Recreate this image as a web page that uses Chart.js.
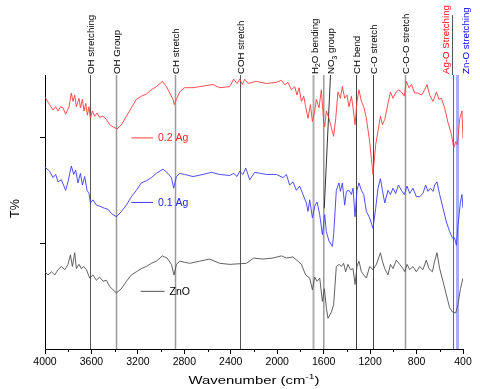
<!DOCTYPE html>
<html>
<head>
<meta charset="utf-8">
<script src="https://cdn.jsdelivr.net/npm/chart.js@4"></script>
<style>
  html, body { margin: 0; padding: 0; background: #fff; }
  canvas { display: block; }
</style>
</head>
<body>
<canvas id="ftir" width="480" height="389"></canvas>
<script>
const FONT = '"Liberation Sans", Arial, sans-serif';

// ---- 0.2 Ag spectrum (wavenumber cm-1 / T%, arbitrary offset units)
const agHighWn = [4000,3960,3931,3908,3888,3867,3845,3822,3793,3773,
  3759,3744,3730,3707,3695,3678,3664,3649,3635,3621,
  3609,3592,3572,3552,3529,3500,3471,3443,3414,3380,
  3342,3299,3256,3213,3170,3127,3084,3041,2989,2954,
  2926,2898,2886,2868,2840,2797,2725,2668,2553,2495,
  2409,2375,2346,2323,2300,2280,2252,2179,2093,2007,
  1964,1936,1907,1878,1849,1830,1812,1792,1772,1755,
  1735,1714,1697,1677,1663,1640,1620,1600,1591,1577,
  1554,1533,1514,1496,1477,1456,1439,1419,1399,1382,
  1361,1347,1330,1313,1296,1275,1255,1232,1204,1175,
  1152,1132,1111,1094,1074,1046,1025,1003,980,956,
  931,905,888,865,844,816,788,758,730,710,
  687,658,629,607,586,558,529,500,480,463,
  448,428,409,400];
const agHighT = [2.38,2.31,2.26,2.29,2.25,2.29,2.28,2.22,2.29,2.42,
  2.34,2.40,2.29,2.37,2.28,2.36,2.25,2.32,2.21,2.29,
  2.18,2.25,2.20,2.23,2.19,2.20,2.17,2.12,2.10,2.08,
  2.12,2.20,2.28,2.36,2.39,2.41,2.45,2.48,2.53,2.48,
  2.42,2.36,2.31,2.36,2.43,2.47,2.47,2.48,2.50,2.47,
  2.48,2.55,2.51,2.55,2.50,2.55,2.51,2.53,2.51,2.52,
  2.54,2.50,2.52,2.45,2.48,2.40,2.47,2.34,2.39,2.29,
  2.18,2.31,2.15,2.25,2.36,2.28,2.45,2.15,2.10,2.25,
  2.18,2.09,2.01,2.18,2.43,2.37,2.48,2.37,2.40,2.29,
  2.39,2.28,2.12,2.34,2.45,2.34,2.29,2.18,1.96,1.65,
  1.93,2.06,2.20,2.12,2.17,2.32,2.43,2.37,2.42,2.45,
  2.43,2.39,2.53,2.47,2.50,2.42,2.42,2.40,2.45,2.50,
  2.40,2.34,2.43,2.36,2.37,2.28,2.14,2.03,1.90,1.96,
  1.93,2.18,2.25,1.99];

// ---- 0.1 Ag spectrum
const agLowWn = [4000,3960,3931,3908,3888,3859,3822,3802,3773,3753,
  3736,3716,3695,3678,3658,3638,3621,3609,3587,3557,
  3529,3486,3457,3428,3385,3342,3299,3256,3213,3170,
  3127,3084,3041,2984,2941,2911,2892,2868,2840,2797,
  2725,2639,2567,2495,2409,2375,2346,2323,2295,2271,
  2237,2194,2093,2007,1950,1921,1893,1864,1835,1807,
  1778,1749,1735,1720,1697,1677,1657,1634,1611,1591,
  1577,1554,1525,1514,1491,1468,1456,1439,1419,1404,
  1382,1361,1347,1330,1313,1296,1275,1255,1232,1204,
  1175,1152,1132,1111,1094,1074,1046,1025,1003,980,
  956,931,905,882,859,831,802,773,745,722,
  702,681,658,644,624,601,572,543,515,491,
  472,457,443,422,409,400];
const agLowT = [1.72,1.68,1.62,1.65,1.58,1.60,1.50,1.58,1.73,1.65,
  1.69,1.57,1.66,1.55,1.63,1.50,1.47,1.38,1.41,1.36,
  1.35,1.33,1.32,1.28,1.25,1.30,1.36,1.44,1.50,1.57,
  1.59,1.62,1.66,1.70,1.66,1.62,1.52,1.63,1.66,1.65,
  1.63,1.65,1.67,1.65,1.64,1.66,1.63,1.68,1.65,1.71,
  1.60,1.67,1.65,1.65,1.62,1.65,1.55,1.58,1.50,1.54,
  1.46,1.38,1.30,1.41,1.24,1.35,1.39,1.27,1.08,1.27,
  1.11,1.02,0.97,1.08,1.50,1.57,1.49,1.57,1.36,1.49,
  1.50,1.46,1.52,1.25,1.50,1.57,1.50,1.46,1.30,1.24,
  1.14,1.33,1.52,1.61,1.50,1.38,1.50,1.46,1.52,1.47,
  1.55,1.50,1.46,1.54,1.47,1.52,1.44,1.44,1.47,1.55,
  1.49,1.52,1.49,1.55,1.58,1.46,1.33,1.20,1.11,1.05,
  1.05,0.98,1.17,1.39,1.46,1.33];

// ---- pure ZnO spectrum
const znoWn = [4000,3974,3945,3916,3888,3859,3830,3802,3781,3764,
  3744,3730,3707,3687,3667,3643,3615,3587,3557,3529,
  3500,3471,3443,3414,3385,3342,3299,3256,3213,3170,
  3127,3084,3041,2989,2949,2911,2889,2868,2840,2797,
  2754,2668,2582,2495,2409,2265,2203,2123,2036,1964,
  1921,1864,1821,1792,1755,1720,1697,1677,1657,1634,
  1611,1594,1577,1563,1533,1514,1491,1468,1447,1428,
  1411,1391,1370,1347,1330,1313,1296,1275,1255,1232,
  1204,1175,1146,1111,1094,1074,1046,1025,1003,974,
  945,917,900,882,859,831,802,773,745,716,
  693,664,644,624,601,572,543,515,491,463,
  443,422,400];
const znoT = [0.73,0.70,0.73,0.70,0.75,0.78,0.75,0.80,0.89,0.78,
  0.91,0.76,0.80,0.76,0.78,0.75,0.67,0.70,0.65,0.68,
  0.64,0.65,0.59,0.56,0.53,0.57,0.64,0.70,0.73,0.76,
  0.78,0.81,0.83,0.88,0.86,0.80,0.70,0.80,0.83,0.82,
  0.81,0.83,0.85,0.81,0.80,0.81,0.86,0.85,0.86,0.88,
  0.86,0.87,0.83,0.80,0.70,0.67,0.56,0.68,0.64,0.67,
  0.45,0.57,0.39,0.29,0.35,0.42,0.78,0.80,0.78,0.81,
  0.73,0.80,0.75,0.76,0.61,0.78,0.83,0.73,0.70,0.67,
  0.78,0.75,0.80,0.91,0.83,0.76,0.70,0.80,0.76,0.84,
  0.80,0.76,0.73,0.80,0.75,0.78,0.73,0.78,0.75,0.84,
  0.76,0.73,0.83,0.91,0.76,0.64,0.51,0.39,0.35,0.34,
  0.42,0.57,0.67];

// band assignments marked with vertical lines
const bandWn = [3610, 3386, 2883, 2318, 1689, 1545, 1324, 1173, 902, 484, 454];
const bandLabels = ['OH stretching', 'OH Group', 'CH stretch', 'COH stretch', 'H_2O bending',
  'NO_3 group', 'CH bend', 'C-O stretch', 'C-O-O stretch', 'Ag-O Stretching', 'Zn-O stretching'];

const seriesNames = ['0.2 Ag', '0.1 Ag', 'ZnO'];
const xTicks = [4000, 3600, 3200, 2800, 2400, 2000, 1600, 1200, 800, 400];

// ---- styling
const seriesColors = ['#ff3b3b', '#3b3bff', '#505050'];
const bandStyle = [
  { color: '#555', width: 1 },
  { color: '#9a9a9a', width: 1.5 },
  { color: '#9a9a9a', width: 1.5 },
  { color: '#555', width: 1 },
  { color: '#b0b0b0', width: 2 },
  { color: '#333', width: 1, slantTo: [1595, 1.33] },
  { color: '#444', width: 1 },
  { color: '#444', width: 1 },
  { color: '#9a9a9a', width: 1.5 },
  { color: '#e83030', width: 1, text: '#ff0000', dx: -6.5, cap: true },
  { color: '#a8adff', width: 3, text: '#0000ff', dx: 9.5 },
];
// where the in-plot series labels sit (data units)
const nameSpots = [
  { from: 3256, to: 3070, y: 2.0, text: '#ff2020' },
  { from: 3256, to: 3070, y: 1.39, text: '#2020ff' },
  { from: 3176, to: 2970, y: 0.55, text: '#000' },
];

const toPoints = (wn, t) => wn.map((w, i) => ({ x: w, y: t[i] }));

function vline(ctx, px, y0, y1, color, width) {
  ctx.beginPath();
  ctx.strokeStyle = color;
  ctx.lineWidth = width;
  ctx.moveTo(px, y0);
  ctx.lineTo(px, y1);
  ctx.stroke();
}

// rotated label reading bottom-to-top, "_" marks a one-character subscript
function upText(ctx, str, px, py, size, color) {
  ctx.save();
  ctx.setTransform(1, 0, 0, 1, 0, 0);
  ctx.translate(px, py);
  ctx.rotate(-Math.PI / 2);
  ctx.fillStyle = color;
  ctx.textBaseline = 'middle';
  ctx.textAlign = 'left';
  let cx = 0;
  const parts = str.split(/_(.)/);
  parts.forEach((p, i) => {
    const sub = i % 2 === 1;
    ctx.font = (sub ? size * 0.7 : size) + 'px ' + FONT;
    ctx.fillText(p, cx, sub ? size * 0.35 : 0);
    cx += ctx.measureText(p).width;
  });
  ctx.restore();
}

const annotate = {
  id: 'annotate',
  beforeDatasetsDraw(chart) {
    const { ctx, chartArea: area, scales: { x, y } } = chart;
    ctx.save();
    vline(ctx, x.getPixelForValue(1599), area.top, area.bottom, '#9a9a9a', 1.5);
    bandWn.forEach((wn, i) => {
      const s = bandStyle[i];
      const px = Math.round(x.getPixelForValue(wn)) + 0.5;
      if (s.slantTo) {
        ctx.beginPath();
        ctx.strokeStyle = s.color;
        ctx.lineWidth = s.width;
        ctx.moveTo(px, area.top);
        ctx.lineTo(x.getPixelForValue(s.slantTo[0]), y.getPixelForValue(s.slantTo[1]));
        ctx.stroke();
      } else {
        vline(ctx, px, area.top, area.bottom, s.color, s.width);
      }
      if (s.cap) vline(ctx, px - 1, 15, area.top, '#555', 1);
    });
    ctx.restore();
  },
  afterDraw(chart) {
    const { ctx, chartArea: area, scales: { x, y } } = chart;
    ctx.save();

    // minor ticks between labelled ones
    for (let v = 600; v < 4000; v += 400) {
      vline(ctx, Math.round(x.getPixelForValue(v)) + 0.5, area.bottom, area.bottom + 3, '#000', 1);
    }

    bandWn.forEach((wn, i) => {
      const s = bandStyle[i];
      const px = x.getPixelForValue(wn) + (s.dx ?? 1.5);
      upText(ctx, bandLabels[i], px, 74, 9.7, s.text || '#000');
    });

    // series names inside the plot
    ctx.font = '10.5px ' + FONT;
    ctx.textBaseline = 'middle';
    ctx.textAlign = 'left';
    nameSpots.forEach((n, i) => {
      const yy = y.getPixelForValue(n.y);
      const x0 = x.getPixelForValue(n.from);
      const x1 = x.getPixelForValue(n.to);
      ctx.beginPath();
      ctx.strokeStyle = seriesColors[i];
      ctx.lineWidth = 1;
      ctx.moveTo(x0, yy + 0.5);
      ctx.lineTo(x1, yy + 0.5);
      ctx.stroke();
      ctx.fillStyle = n.text;
      ctx.fillText(seriesNames[i], x1 + 5, yy + 1);
    });

    // axis titles
    upText(ctx, 'T%', 16, 218, 12.5, '#000');

    const cx = (area.left + area.right) / 2;
    ctx.font = '11.5px ' + FONT;
    const a = 'Wavenumber (cm', b = ')';
    const wa = ctx.measureText(a).width, wb = ctx.measureText(b).width;
    ctx.font = '8px ' + FONT;
    const ws = ctx.measureText('-1').width;
    const total = wa + ws + wb;
    ctx.translate(cx, 384);
    ctx.scale(131 / total, 1);
    ctx.fillStyle = '#000';
    ctx.textBaseline = 'alphabetic';
    ctx.font = '11.5px ' + FONT;
    ctx.fillText(a, -total / 2, 0);
    ctx.font = '8px ' + FONT;
    ctx.fillText('-1', -total / 2 + wa, -5);
    ctx.font = '11.5px ' + FONT;
    ctx.fillText(b, -total / 2 + wa + ws, 0);
    ctx.restore();
  }
};

new Chart(document.getElementById('ftir'), {
  type: 'line',
  data: {
    datasets: [
      { label: seriesNames[0], data: toPoints(agHighWn, agHighT) },
      { label: seriesNames[1], data: toPoints(agLowWn, agLowT) },
      { label: seriesNames[2], data: toPoints(znoWn, znoT) },
    ].map((d, i) => ({ ...d, borderColor: seriesColors[i], borderWidth: 0.9, pointRadius: 0, tension: 0, fill: false })),
  },
  options: {
    responsive: false,
    animation: false,
    layout: { padding: { top: 75, right: 17, left: 0, bottom: 0 } },
    plugins: { legend: { display: false }, tooltip: { enabled: false } },
    scales: {
      x: {
        type: 'linear',
        reverse: true,
        min: 400,
        max: 4000,
        afterBuildTicks: (s) => { s.ticks = xTicks.map((v) => ({ value: v })); },
        afterFit: (s) => { s.height = 40; },
        ticks: {
          color: '#000', font: { family: FONT, size: 10.5 }, padding: 2, maxRotation: 0, autoSkip: false,
          callback: (v) => String(v),
        },
        grid: { drawOnChartArea: false, tickLength: 5, tickColor: '#000' },
        border: { color: '#000', width: 1 },
      },
      y: {
        min: 0,
        max: 2.59,
        afterBuildTicks: (s) => { s.ticks = [{ value: 1 }, { value: 2 }]; },
        afterFit: (s) => { s.width = 45; },
        ticks: { callback: () => '', padding: 0 },
        grid: { drawOnChartArea: false, tickLength: 5, tickColor: '#000' },
        border: { color: '#000', width: 1 },
      },
    },
  },
  plugins: [annotate],
});
</script>
</body>
</html>
